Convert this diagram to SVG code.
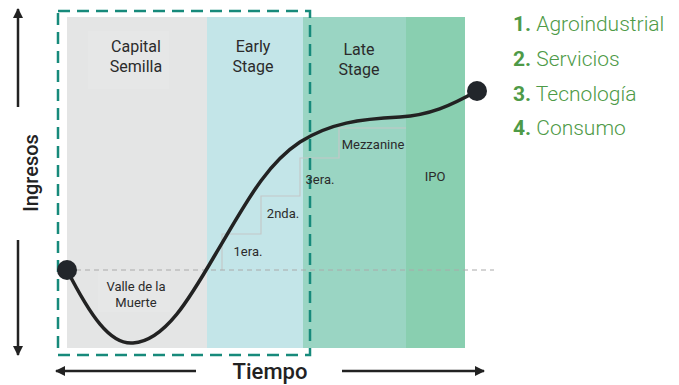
<svg xmlns="http://www.w3.org/2000/svg" width="679" height="385" viewBox="0 0 679 385">
<defs>
<style>
.lbl{font-family:Roboto,"Liberation Sans",sans-serif;fill:#2b2b2b;text-anchor:middle}
.stage{font-size:16px}
.small{font-size:13px}
.step{fill:none;stroke:#c4c8c8;stroke-width:1.2}
.axis{stroke:#222;stroke-width:2.5;fill:none}
.leg{font-family:Roboto,"Liberation Sans",sans-serif;font-size:21px;fill:#4e9a47;font-weight:300}
.leg tspan.n{font-weight:700}
</style>
<marker id="ah" viewBox="0 0 10 10" refX="9" refY="5" markerWidth="4" markerHeight="4" orient="auto-start-reverse">
<path d="M0,0 L10,5 L0,10 z" fill="#222"/>
</marker>
</defs>
<rect width="679" height="385" fill="#fff"/>
<g id="bands">
<rect x="67" y="17" width="140" height="331" fill="#e4e5e5"/>
<rect x="207" y="17" width="96" height="331" fill="#c3e5e8"/>
<rect x="303" y="17" width="103" height="331" fill="#9ad5c3"/>
<rect x="406" y="17" width="59" height="331" fill="#89cfb0"/>
<rect x="88" y="31" width="81" height="58" fill="#e6e7e7"/>
<rect x="98" y="270" width="72" height="42" fill="#e6e7e7"/>
</g>
<g id="steps">
<polyline class="step" points="222,270 222,234 261,234 261,196 300,196 300,158 339,158 339,128 406,128"/>
<line x1="67" y1="270" x2="494" y2="270" stroke="#aaaaaa" stroke-width="1" stroke-dasharray="5,4"/>
</g>
<g id="frame">
<rect x="58" y="11" width="252" height="344" fill="none" stroke="#178a7b" stroke-width="2.5" stroke-dasharray="12,7"/>
</g>
<g id="labels">
<text class="lbl stage" x="136" y="52">Capital</text>
<text class="lbl stage" x="136" y="72">Semilla</text>
<text class="lbl stage" x="253" y="52">Early</text>
<text class="lbl stage" x="253" y="72">Stage</text>
<text class="lbl stage" x="359" y="55">Late</text>
<text class="lbl stage" x="359" y="75">Stage</text>
<text class="lbl small" x="136" y="291">Valle de la</text>
<text class="lbl small" x="136" y="307">Muerte</text>
<text class="lbl small" x="248" y="256">1era.</text>
<text class="lbl small" x="283" y="218">2nda.</text>
<text class="lbl small" x="320" y="184">3era.</text>
<text class="lbl small" x="373" y="149">Mezzanine</text>
<text class="lbl small" x="435" y="181">IPO</text>
</g>
<g id="curve">
<path d="M67,270 C90,315 110,345 133,343 C165,341 190,298 215,255 C245,205 265,165 300,142 C330,123 360,119 400,117 C430,115 450,106 477,91" fill="none" stroke="#222222" stroke-width="3.5" stroke-linecap="round"/>
<circle cx="67" cy="270" r="10" fill="#22262b"/>
<circle cx="477" cy="91" r="10" fill="#22262b"/>
</g>
<g id="axes">
<line class="axis" x1="18" y1="107" x2="18" y2="9" marker-end="url(#ah)"/>
<line class="axis" x1="18" y1="240" x2="18" y2="355" marker-end="url(#ah)"/>
<line class="axis" x1="196" y1="371" x2="56" y2="371" marker-end="url(#ah)"/>
<line class="axis" x1="342" y1="371" x2="484" y2="371" marker-end="url(#ah)"/>
<text x="38" y="173" transform="rotate(-90 38 173)" font-family="Roboto,'Liberation Sans',sans-serif" font-size="20" font-weight="500" fill="#222" text-anchor="middle">Ingresos</text>
<text x="270" y="379" font-family="Roboto,'Liberation Sans',sans-serif" font-size="22" font-weight="500" fill="#222" text-anchor="middle">Tiempo</text>
</g>
<g id="legend">
<text class="leg" x="513" y="31"><tspan class="n">1.</tspan> Agroindustrial</text>
<text class="leg" x="513" y="66"><tspan class="n">2.</tspan> Servicios</text>
<text class="leg" x="513" y="101"><tspan class="n">3.</tspan> Tecnología</text>
<text class="leg" x="513" y="135"><tspan class="n">4.</tspan> Consumo</text>
</g>
</svg>
